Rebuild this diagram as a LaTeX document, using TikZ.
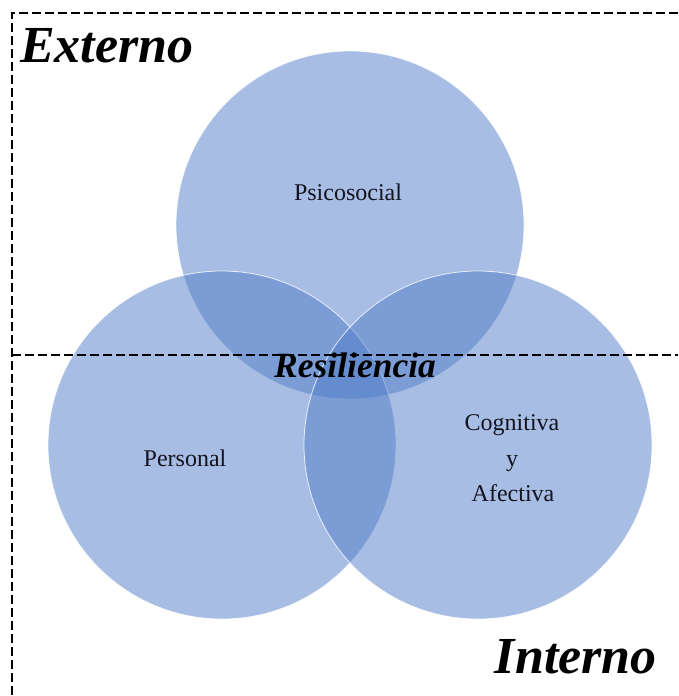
\documentclass[tikz,border=0pt]{standalone}
\usepackage{fontspec}
\setmainfont{Liberation Serif}
\definecolor{circfill}{RGB}{81,125,201}
\definecolor{txt}{RGB}{20,20,30}
\tikzset{
  venn/.style={circle, minimum size=348pt, inner sep=0pt, fill=circfill, fill opacity=0.5, draw=white, draw opacity=0.8, line width=0.8pt},
  border/.style={draw=black, line width=2.4pt, dash pattern=on 9pt off 4pt},
  big/.style={font=\fontsize{52}{52}\selectfont\bfseries\itshape, text=black, inner sep=0pt},
  mid/.style={font=\fontsize{35.5}{35.5}\selectfont\bfseries\itshape, text=black, inner sep=0pt},
  lab/.style={font=\fontsize{24}{24}\selectfont, text=txt, inner sep=0pt, anchor=base}
}
\begin{document}
\begin{tikzpicture}[x=1pt,y=-1pt]
\useasboundingbox[fill=white] (0,0) rectangle (678,696);
% circles
\node[venn] (top) at (350,225) {};
\node[venn] (left) at (222,445) {};
\node[venn] (right) at (478,445) {};
% dashed frame
\coordinate (tl) at (12,13);
\coordinate (tr) at (678,13);
\coordinate (bl) at (12,696);
\coordinate (ml) at (12,355);
\coordinate (mr) at (678,355);
\draw[border] (tr) -- (tl) -- (bl);
\draw[border] (ml) -- (mr);
% labels
\node[big, anchor=base west] (ext) at (20,62) {Externo};
\node[big, anchor=base east] (int) at (657,673) {Interno};
\node[mid, anchor=base] (res) at (355,377) {Resiliencia};
\node[lab] (psi) at (348,200) {Psicosocial};
\node[lab] (per) at (185,466) {Personal};
\node[lab] (cog) at (512,430) {Cognitiva};
\node[lab] (yy) at (512,466) {y};
\node[lab] (afe) at (513,501) {Afectiva};
\end{tikzpicture}
\end{document}
